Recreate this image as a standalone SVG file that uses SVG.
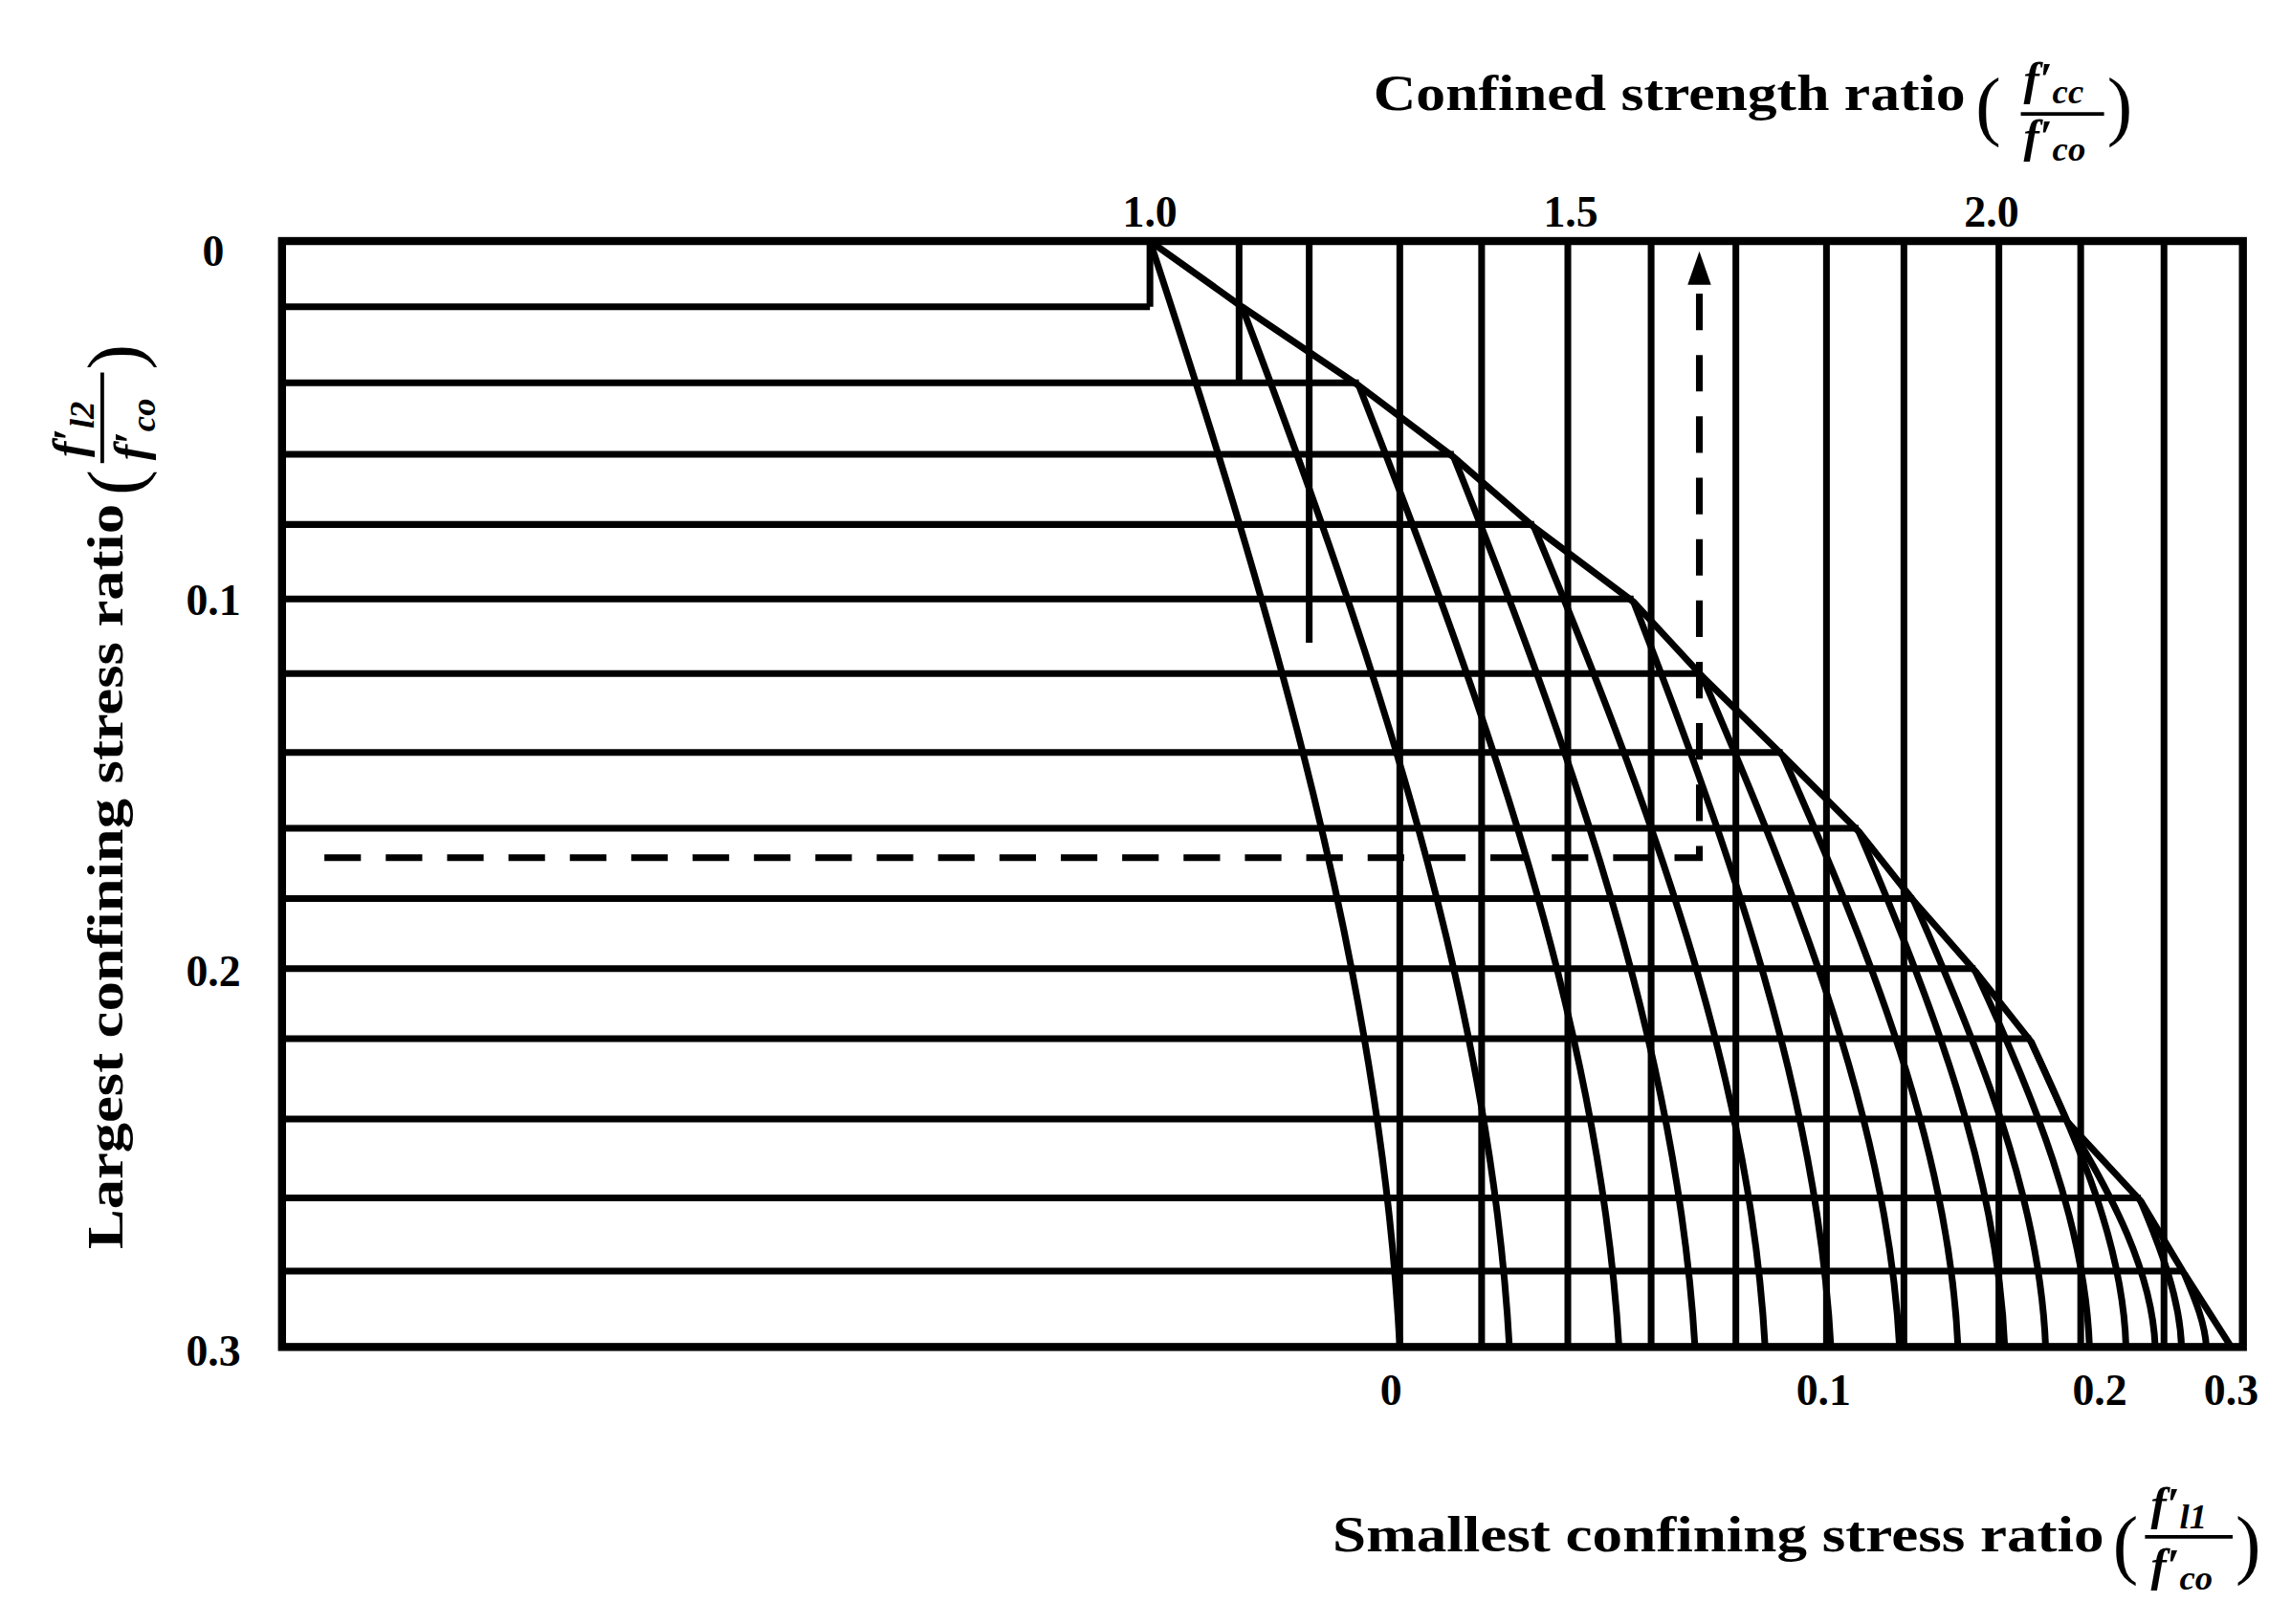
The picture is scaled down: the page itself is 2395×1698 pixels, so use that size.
<svg xmlns="http://www.w3.org/2000/svg" width="2395" height="1698" viewBox="0 0 2395 1698">
<style>
.g{stroke:#000;stroke-width:4.6;fill:none}
.t{font-family:"Liberation Serif",serif;font-weight:bold;fill:#000}
.f{font-family:"Liberation Serif",serif;font-weight:bold;font-style:italic;fill:#000}
.p{font-family:"Liberation Serif",serif;font-weight:normal;fill:#000}
</style>
<rect width="2395" height="1698" fill="#fff"/>
<g transform="scale(1.5275)">
<g id="grid" class="g">
<path d="M193 210H787M193 262H930M193 311H995M193 359H1050M193 410H1118M193 461H1165M193 515H1220M193 567H1272M193 615H1310M193 663H1352M193 711H1390M193 766H1415M193 820H1465M193 870H1495"/>
<path d="M787 165V210M848 165V262M896 165V440M958 165V922M1014 165V922M1073 165V922M1130 165V922M1188 165V922M1250 165V922M1303 165V922M1368 165V922M1424 165V922M1481 165V922"/>
</g>
<g id="curves" class="g" stroke-linejoin="round">
<polyline points="787,165 850,210 930,264 995,313 1050,361 1118,412 1165,463 1220,517 1272,569 1310,617 1352,665 1390,713 1415,768 1465,822 1495,872 1527,922"/>
<path d="M787 165C870 417 945 670 958 922"/>
<path d="M850 210C940 447 1020 685 1033 922"/>
<path d="M930 264C1016 483 1095 703 1108 922"/>
<path d="M995 313C1076 516 1148 719 1160 922"/>
<path d="M1050 361C1128 548 1198 735 1208 922"/>
<path d="M1118 412C1184 582 1244 752 1253 922"/>
<path d="M1165 463C1231 616 1292 769 1300 922"/>
<path d="M1220 517C1280 652 1334 787 1340 922"/>
<path d="M1272 569C1323 687 1367 804 1372 922"/>
<path d="M1310 617C1355 719 1396 820 1400 922"/>
<path d="M1352 665C1392 751 1427 837 1430 922"/>
<path d="M1390 713C1423 783 1453 852 1455 922"/>
<path d="M1415 768C1446 819 1473 871 1475 922"/>
<path d="M1465 822C1479 855 1492 889 1493 922"/>
<path d="M1495 872C1502 889 1509 905 1510 922"/>
</g>
<g id="frame"><rect x="193" y="165" width="1342" height="757" fill="none" stroke="#000" stroke-width="5.5"/></g>
<g id="connectors">
<path class="g" d="M222 587H1163V192" stroke-dasharray="25,17"/>
<polygon points="1163,172 1155,195 1171,195" fill="#000"/>
</g>
<g id="labels" class="t" font-size="30" text-anchor="middle">
<text x="787" y="155">1.0</text><text x="1075" y="155">1.5</text><text x="1363" y="155">2.0</text>
<text x="146" y="182">0</text><text x="146" y="421">0.1</text><text x="146" y="675">0.2</text><text x="146" y="935">0.3</text>
<text x="952" y="962">0</text><text x="1248" y="962">0.1</text><text x="1437" y="962">0.2</text><text x="1527" y="962">0.3</text>
</g>
<g id="title-top">
<text class="t" font-size="34" x="940" y="75" textLength="405" lengthAdjust="spacingAndGlyphs">Confined strength ratio</text>
<text class="p" font-size="52" x="1352" y="90">(</text>
<text class="p" font-size="52" x="1442" y="90">)</text>
<text class="f" font-size="32" x="1385" y="65">f′<tspan font-size="24" dy="6">cc</tspan></text>
<line x1="1383" y1="78" x2="1440" y2="78" stroke="#000" stroke-width="2.5"/>
<text class="f" font-size="32" x="1385" y="104">f′<tspan font-size="24" dy="6">co</tspan></text>
</g>
<g id="title-bottom">
<text class="t" font-size="34" x="912" y="1062" textLength="528" lengthAdjust="spacingAndGlyphs">Smallest confining stress ratio</text>
<text class="p" font-size="52" x="1446" y="1074">(</text>
<text class="p" font-size="52" x="1530" y="1074">)</text>
<text class="f" font-size="32" x="1472" y="1040">f′<tspan font-size="24" dy="6">l1</tspan></text>
<line x1="1468" y1="1052" x2="1528" y2="1052" stroke="#000" stroke-width="2.5"/>
<text class="f" font-size="32" x="1472" y="1082">f′<tspan font-size="24" dy="6">co</tspan></text>
</g>
<g id="title-left" transform="translate(84,855) rotate(-90)">
<text class="t" font-size="34" x="0" y="0" textLength="510" lengthAdjust="spacingAndGlyphs">Largest confining stress ratio</text>
<text class="p" font-size="52" x="516" y="12">(</text>
<text class="p" font-size="52" x="602" y="12">)</text>
<text class="f" font-size="32" x="542" y="-26">f′<tspan font-size="24" dy="6">l2</tspan></text>
<line x1="538" y1="-14" x2="600" y2="-14" stroke="#000" stroke-width="2.5"/>
<text class="f" font-size="32" x="540" y="16">f′<tspan font-size="24" dy="6">co</tspan></text>
</g>
</g>
</svg>
